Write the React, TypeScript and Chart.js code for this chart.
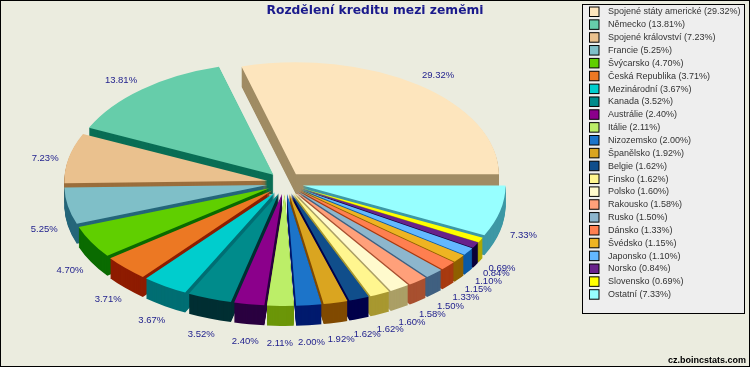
import React, { useEffect, useRef } from "react";
import { Chart, registerables } from "chart.js";

Chart.register(...registerables);

const countries = ["Spojené státy americké","Německo","Spojené království","Francie","Švýcarsko","Česká Republika","Mezinárodní","Kanada","Austrálie","Itálie","Nizozemsko","Španělsko","Belgie","Finsko","Polsko","Rakousko","Rusko","Dánsko","Švédsko","Japonsko","Norsko","Slovensko","Ostatní"];
const shares = [29.32,13.81,7.23,5.25,4.70,3.71,3.67,3.52,2.40,2.11,2.00,1.92,1.62,1.62,1.60,1.58,1.50,1.33,1.15,1.10,0.84,0.69,7.33];
const topColors = ["#fde5bd","#66cdaa","#eac18e","#7fbfc8","#60cf00","#ec7823","#00cdcd","#008b8b","#8b008b","#bcee68","#1c74c9","#daa520","#104e8b","#fff68f","#fffacd","#ffa07a","#8db6cd","#ff7f50","#eeb422","#63b8ff","#68228b","#ffff00","#97ffff"];
const sideColors = ["#a08c64","#0a6e55","#9a6e3c","#25667a","#0a6b00","#8e1c00","#006e73","#002f33","#2a0040","#6b9608","#001a6e","#804a00","#00004a","#a89830","#ab9f66","#a85030","#406080","#a83a10","#8f6000","#0a5aa5","#0c0038","#b0a800","#3d98a5"];

const PAGE_BG = "#ebecdf";
const CX = 285, CY = 183, RX = 203, RY = 112, EXPLODE = 18, DEPTH = 20;

const pie3d = {
  id: "pie3d",
  beforeDraw(chart: any) {
    const { ctx, width, height } = chart;
    ctx.save();
    ctx.fillStyle = PAGE_BG;
    ctx.fillRect(0, 0, width, height);
    ctx.strokeStyle = "#000";
    ctx.lineWidth = 1;
    ctx.strokeRect(0.5, 0.5, width - 1, height - 1);
    // legend
    ctx.fillStyle = "#eeeeee";
    ctx.fillRect(582.5, 4.5, 162, 309);
    ctx.strokeRect(582.5, 4.5, 162, 309);
    ctx.textBaseline = "middle";
    ctx.textAlign = "left";
    ctx.font = "9px 'Liberation Sans'";
    countries.forEach((n, i) => {
      const y = 6.5 + i * 12.85;
      ctx.fillStyle = topColors[i];
      ctx.fillRect(589.5, y + 0.5, 9.5, 9.5);
      ctx.strokeStyle = "#000";
      ctx.strokeRect(589.5, y + 0.5, 9.5, 9.5);
      ctx.fillStyle = "#333";
      ctx.fillText(`${n} (${shares[i].toFixed(2)}%)`, 608, y + 5.5);
    });
    // site note
    ctx.fillStyle = "#000";
    ctx.textAlign = "right";
    ctx.font = "bold 9px 'Liberation Sans'";
    ctx.fillText("cz.boincstats.com", 746, 361);
    ctx.restore();
  },
  beforeDatasetsDraw(chart: any) {
    const { ctx } = chart;
    const arcs: any[] = chart.getDatasetMeta(0).data;
    const R = arcs[0].outerRadius;
    const sx = RX / R, sy = RY / R;
    const mid = (a: any) => (a.startAngle + a.endAngle) / 2;
    const order = arcs.map((a, i) => i).sort((p, q) => Math.sin(mid(arcs[q])) - Math.sin(mid(arcs[p])));
    const paint = (arc: any, color: string, dy: number) => {
      const m = mid(arc);
      const base = arc.options;
      arc.options = Object.create(base, { backgroundColor: { value: color }, borderWidth: { value: 0 } });
      ctx.save();
      ctx.translate(CX + Math.cos(m) * EXPLODE, CY - Math.sin(m) * EXPLODE * (RY / RX) * 1.1 + dy);
      ctx.scale(sx, -sy);
      ctx.translate(-arc.x, -arc.y);
      arc.draw(ctx);
      ctx.restore();
      arc.options = base;
    };
    order.forEach((i) => {
      for (let d = DEPTH; d >= 1; d--) paint(arcs[i], sideColors[i], d);
      paint(arcs[i], topColors[i], 0);
    });
    // percentage labels
    ctx.save();
    ctx.fillStyle = "#23238e";
    ctx.font = "9.5px 'Liberation Sans'";
    ctx.textAlign = "center";
    ctx.textBaseline = "middle";
    arcs.forEach((arc, i) => {
      const m = mid(arc);
      const c = Math.cos(m), s = Math.sin(m);
      const rimX = CX + c * (EXPLODE + RX);
      const rimY = CY - s * (EXPLODE * (RY / RX) * 1.1 + RY) + (s < 0 ? DEPTH : 0);
      const x = rimX + c * (s > 0.3 ? 32 : 24);
      const y = rimY - s * (s > 0.3 ? 12 : s > 0 ? 0 : 17);
      ctx.fillText(`${shares[i].toFixed(2)}%`, x, y);
    });
    ctx.restore();
    return false;
  },
};

export default function App() {
  const ref = useRef<HTMLCanvasElement>(null);
  useEffect(() => {
    const chart = new Chart(ref.current as HTMLCanvasElement, {
      type: "pie",
      data: {
        labels: countries,
        datasets: [{ data: shares, backgroundColor: topColors, borderWidth: 0 }],
      },
      options: {
        animation: false,
        responsive: false,
        rotation: 90,
        layout: { padding: 0 },
        plugins: {
          legend: { display: false },
          tooltip: { enabled: false },
          title: {
            display: true,
            text: "Rozdělení kreditu mezi zeměmi",
            color: "#1a1a8c",
            font: { family: "'DejaVu Sans'", size: 12.3, weight: "bold" },
            padding: { top: 3, bottom: 2 },
          },
        },
      },
      plugins: [pie3d],
    } as any);
    return () => chart.destroy();
  }, []);
  return (
    <div style={{ position: "fixed", left: 0, top: 0, width: 750, height: 367 }}>
      <canvas ref={ref} width={750} height={367} style={{ display: "block" }} />
    </div>
  );
}
